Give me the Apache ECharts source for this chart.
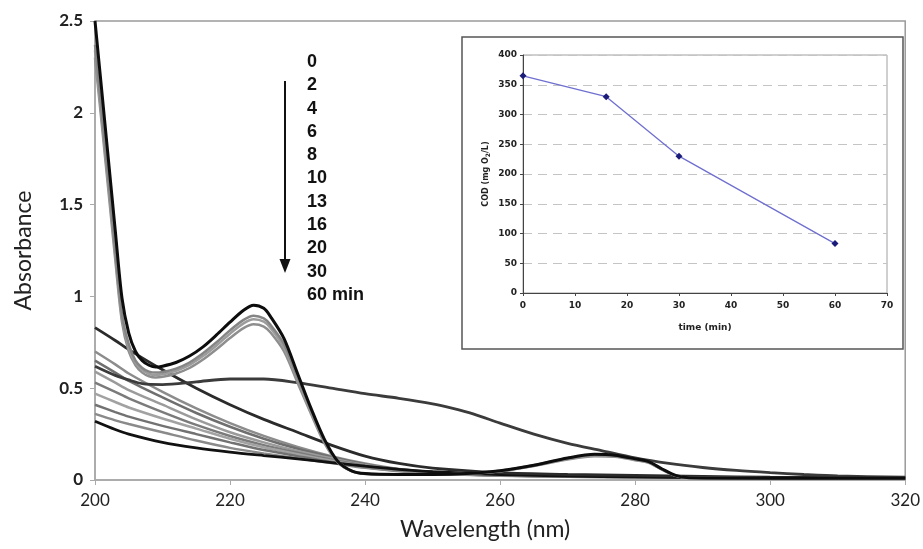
<!DOCTYPE html>
<html>
<head>
<meta charset="utf-8">
<title>Absorbance spectra</title>
<script src="https://cdn.jsdelivr.net/npm/echarts@6/dist/echarts.min.js"></script>
<style>
  html, body { margin: 0; padding: 0; background: #fff; }
  #chart { width: 923px; height: 549px; }
</style>
</head>
<body>
<div id="chart"></div>
<script>
// tick values of the main chart and of the inset
const xTicks = [200, 220, 240, 260, 280, 300, 320];
const yTicks = [0, 0.5, 1, 1.5, 2, 2.5];
const insetXTicks = [0, 10, 20, 30, 40, 50, 60, 70];
const insetYTicks = [0, 50, 100, 150, 200, 250, 300, 350, 400];

// time labels next to the arrow
const timeLabels = ["0", "2", "4", "6", "8", "10", "13", "16", "20", "30", "60 min"];

// wavelength grids (nm)
const wlPeak = [200, 201, 202, 203, 204, 205, 206, 207, 208, 209, 210, 212, 214, 216, 218, 220, 222, 223.5, 225, 226, 228, 230, 232, 234, 236, 238, 240, 245, 250, 255, 260, 265, 270, 274, 277, 280, 282, 284, 286, 288, 300, 320];
const wlMono = [200, 203, 205, 210, 215, 220, 225, 230, 235, 240, 245, 250, 260, 270, 280, 290, 300, 320];
const wlBroad = [200, 203, 205, 207, 210, 215, 220, 225, 230, 235, 240, 245, 250, 253, 256, 260, 265, 270, 275, 280, 285, 290, 295, 300, 305, 310, 320];

// spectra with the 223 nm band (early times)
const absT0 = [2.50, 2.12, 1.74, 1.36, 0.99, 0.80, 0.70, 0.65, 0.625, 0.615, 0.62, 0.64, 0.675, 0.725, 0.79, 0.86, 0.925, 0.952, 0.935, 0.89, 0.77, 0.58, 0.39, 0.22, 0.10, 0.05, 0.035, 0.03, 0.03, 0.035, 0.05, 0.08, 0.12, 0.14, 0.135, 0.115, 0.10, 0.06, 0.025, 0.012, 0.01, 0.01];
const absT2 = [2.37, 2.00, 1.63, 1.25, 0.90, 0.74, 0.65, 0.61, 0.59, 0.585, 0.588, 0.607, 0.64, 0.69, 0.75, 0.815, 0.872, 0.895, 0.88, 0.845, 0.74, 0.56, 0.38, 0.21, 0.10, 0.05, 0.035, 0.03, 0.03, 0.035, 0.05, 0.08, 0.118, 0.137, 0.132, 0.112, 0.098, 0.058, 0.024, 0.012, 0.01, 0.01];
const absT4 = [2.34, 1.97, 1.60, 1.23, 0.88, 0.72, 0.64, 0.60, 0.578, 0.572, 0.576, 0.595, 0.627, 0.675, 0.733, 0.797, 0.853, 0.875, 0.862, 0.828, 0.72, 0.55, 0.37, 0.21, 0.10, 0.05, 0.034, 0.03, 0.03, 0.034, 0.048, 0.078, 0.115, 0.134, 0.13, 0.11, 0.096, 0.057, 0.024, 0.012, 0.01, 0.01];
const absT6 = [2.30, 1.94, 1.57, 1.20, 0.86, 0.70, 0.625, 0.585, 0.565, 0.558, 0.562, 0.58, 0.61, 0.656, 0.712, 0.773, 0.827, 0.848, 0.836, 0.803, 0.70, 0.53, 0.36, 0.20, 0.095, 0.048, 0.033, 0.03, 0.03, 0.033, 0.047, 0.076, 0.112, 0.13, 0.127, 0.108, 0.094, 0.056, 0.023, 0.012, 0.01, 0.01];

// smooth decaying spectra (later times)
const absT8 = [0.83, 0.76, 0.71, 0.60, 0.50, 0.41, 0.33, 0.26, 0.19, 0.13, 0.09, 0.065, 0.04, 0.03, 0.025, 0.02, 0.015, 0.01];
const absT10 = [0.62, 0.57, 0.545, 0.525, 0.52, 0.535, 0.55, 0.55, 0.53, 0.50, 0.47, 0.445, 0.415, 0.39, 0.36, 0.31, 0.25, 0.20, 0.16, 0.12, 0.09, 0.068, 0.052, 0.04, 0.03, 0.022, 0.015];
const absT13 = [0.70, 0.63, 0.58, 0.48, 0.39, 0.31, 0.24, 0.18, 0.13, 0.09, 0.06, 0.045, 0.03, 0.022, 0.018, 0.014, 0.012, 0.01];
const absT16 = [0.65, 0.585, 0.54, 0.45, 0.365, 0.29, 0.225, 0.17, 0.125, 0.085, 0.058, 0.043, 0.028, 0.021, 0.017, 0.014, 0.012, 0.01];
const absT20 = [0.59, 0.53, 0.49, 0.41, 0.33, 0.26, 0.205, 0.158, 0.118, 0.082, 0.056, 0.041, 0.027, 0.02, 0.017, 0.013, 0.011, 0.01];
const absT25 = [0.53, 0.48, 0.445, 0.37, 0.30, 0.24, 0.19, 0.148, 0.11, 0.078, 0.054, 0.04, 0.026, 0.02, 0.016, 0.013, 0.011, 0.01];
const absT30 = [0.47, 0.425, 0.395, 0.335, 0.28, 0.225, 0.178, 0.14, 0.105, 0.075, 0.052, 0.038, 0.025, 0.019, 0.016, 0.013, 0.011, 0.01];
const absT40 = [0.41, 0.37, 0.345, 0.295, 0.25, 0.205, 0.163, 0.13, 0.098, 0.07, 0.05, 0.037, 0.024, 0.018, 0.015, 0.012, 0.011, 0.01];
const absT50 = [0.36, 0.325, 0.305, 0.26, 0.215, 0.175, 0.145, 0.118, 0.092, 0.066, 0.048, 0.035, 0.023, 0.018, 0.015, 0.012, 0.01, 0.01];
const absT60 = [0.32, 0.275, 0.25, 0.205, 0.175, 0.152, 0.133, 0.115, 0.095, 0.075, 0.058, 0.045, 0.03, 0.021, 0.017, 0.013, 0.011, 0.01];

// inset: COD vs time
const codTime = [0, 16, 30, 60];
const codValue = [365, 330, 230, 83];

const pairs = (xs, ys) => xs.map((x, i) => [x, ys[i]]);

function spectrum(xs, ys, color, width) {
  return {
    type: "line",
    xAxisIndex: 0,
    yAxisIndex: 0,
    data: pairs(xs, ys),
    smooth: 0.3,
    symbol: "none",
    lineStyle: { color: color, width: width || 2.5 },
    clip: true
  };
}

const chart = echarts.init(document.getElementById("chart"));

// time list, arrow and the frame round the inset
const graphics = timeLabels.map((t, i) => ({
  type: "text",
  left: 307,
  top: 53 + i * 23.3,
  style: { text: t, font: "bold 18px 'Liberation Sans', Arial, sans-serif", fill: "#111" }
}));
graphics.push(
  { type: "line", shape: { x1: 285, y1: 81, x2: 285, y2: 262 }, style: { stroke: "#111", lineWidth: 2 } },
  { type: "polygon", shape: { points: [[279.5, 259], [290.5, 259], [285, 273]] }, style: { fill: "#111" } },
  { type: "rect", shape: { x: 462, y: 37, width: 441, height: 312 }, style: { fill: "transparent", stroke: "#555", lineWidth: 1.5 } }
);

const option = {
  animation: false,
  backgroundColor: "#fff",
  grid: [
    { left: 95, right: 13, top: 21, bottom: 69, show: true, borderColor: "#9a9a9a", borderWidth: 1.5 },
    { left: 523, right: 36, top: 55, bottom: 256, show: true, borderColor: "#a0a0a0", borderWidth: 1 }
  ],
  xAxis: [
    {
      type: "value", gridIndex: 0,
      min: xTicks[0], max: xTicks[xTicks.length - 1], interval: xTicks[1] - xTicks[0],
      name: "Wavelength (nm)", nameLocation: "middle", nameGap: 38,
      nameTextStyle: { fontFamily: "Lato", fontSize: 23, color: "#222", padding: [0, 30, 0, 0] },
      axisLine: { lineStyle: { color: "#aaa", width: 1.5 } },
      axisTick: { length: 5, lineStyle: { color: "#aaa" } },
      axisLabel: { fontFamily: "Lato", fontSize: 17, color: "#222", margin: 12 },
      splitLine: { show: false }
    },
    {
      type: "value", gridIndex: 1,
      min: insetXTicks[0], max: insetXTicks[insetXTicks.length - 1], interval: insetXTicks[1] - insetXTicks[0],
      name: "time (min)", nameLocation: "middle", nameGap: 30,
      nameTextStyle: { fontFamily: "DejaVu Sans", fontWeight: "bold", fontSize: 9, color: "#222" },
      axisLine: { lineStyle: { color: "#444", width: 1 } },
      axisTick: { length: 3, lineStyle: { color: "#444" } },
      axisLabel: { fontFamily: "DejaVu Sans", fontWeight: "bold", fontSize: 9, color: "#222", margin: 8 },
      splitLine: { show: false }
    }
  ],
  yAxis: [
    {
      type: "value", gridIndex: 0,
      min: yTicks[0], max: yTicks[yTicks.length - 1], interval: yTicks[1] - yTicks[0],
      name: "Absorbance", nameLocation: "middle", nameGap: 60,
      nameTextStyle: { fontFamily: "Lato", fontSize: 23, color: "#222" },
      axisLine: { show: true, lineStyle: { color: "#aaa", width: 1.5 } },
      axisTick: { show: true, length: 5, lineStyle: { color: "#aaa" } },
      axisLabel: { fontFamily: "Lato", fontWeight: "bold", fontSize: 17, color: "#222", margin: 12 },
      splitLine: { show: false }
    },
    {
      type: "value", gridIndex: 1,
      min: insetYTicks[0], max: insetYTicks[insetYTicks.length - 1], interval: insetYTicks[1] - insetYTicks[0],
      name: "COD (mg O{sub|2}/L)", nameLocation: "middle", nameGap: 32,
      nameTextStyle: {
        fontFamily: "DejaVu Sans", fontWeight: "bold", fontSize: 8, color: "#222",
        rich: { sub: { fontFamily: "DejaVu Sans", fontWeight: "bold", fontSize: 6, verticalAlign: "bottom", padding: [4, 0, 0, 0] } }
      },
      axisLine: { show: true, lineStyle: { color: "#444", width: 1 } },
      axisTick: { show: true, length: 3, lineStyle: { color: "#444" } },
      axisLabel: { fontFamily: "DejaVu Sans", fontWeight: "bold", fontSize: 9, color: "#222", margin: 6 },
      splitLine: { show: true, lineStyle: { color: "#c4c4c4", type: [9, 6], width: 1 } }
    }
  ],
  graphic: graphics,
  series: [
    spectrum(wlMono, absT13, "#8c8c8c"),
    spectrum(wlMono, absT16, "#6f6f6f"),
    spectrum(wlMono, absT20, "#9b9b9b"),
    spectrum(wlMono, absT25, "#7b7b7b"),
    spectrum(wlMono, absT30, "#a2a2a2"),
    spectrum(wlMono, absT40, "#727272"),
    spectrum(wlMono, absT50, "#8a8a8a"),
    spectrum(wlMono, absT60, "#111111", 2.8),
    spectrum(wlMono, absT8, "#2b2b2b", 2.8),
    spectrum(wlBroad, absT10, "#3b3b3b", 2.8),
    spectrum(wlPeak, absT6, "#8e8e8e"),
    spectrum(wlPeak, absT4, "#9c9c9c"),
    spectrum(wlPeak, absT2, "#858585"),
    spectrum(wlPeak, absT0, "#0d0d0d", 3),
    {
      type: "line",
      xAxisIndex: 1,
      yAxisIndex: 1,
      data: pairs(codTime, codValue),
      symbol: "diamond",
      symbolSize: 7,
      itemStyle: { color: "#1b1b7a" },
      lineStyle: { color: "#6f6fd0", width: 1.3 }
    }
  ]
};

chart.setOption(option);
window.addEventListener("resize", () => chart.resize());
</script>
</body>
</html>
